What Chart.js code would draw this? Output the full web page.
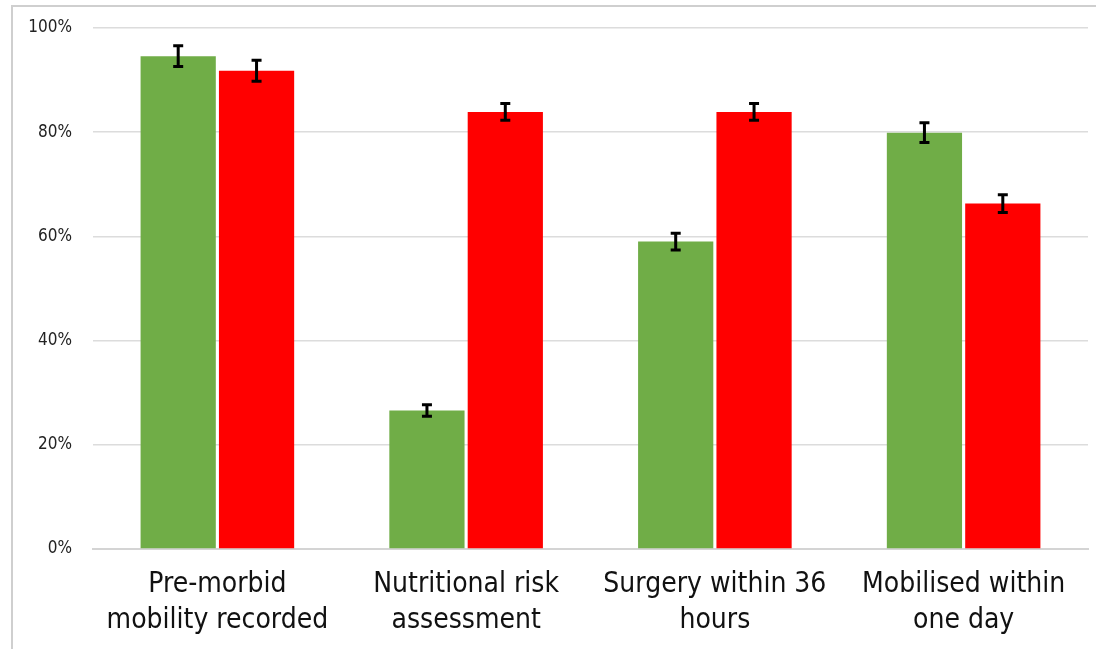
<!DOCTYPE html>
<html>
<head>
<meta charset="utf-8">
<script src="https://cdn.jsdelivr.net/npm/chart.js@4/dist/chart.umd.min.js"></script>
<style>
  html, body { margin: 0; padding: 0; background: #fff; overflow: hidden; }
  #wrap { position: relative; width: 1096px; height: 649px; overflow: hidden; }
  #frame { position: absolute; left: 11px; top: 5px; width: 1200px; height: 800px;
           border-left: 2px solid #cfcfcf; border-top: 2px solid #cfcfcf; pointer-events: none; }
  canvas { position: absolute; left: 0; top: 0; }
</style>
</head>
<body>
<div id="wrap">
  <canvas id="c" width="1096" height="649"></canvas>
  <div id="frame"></div>
</div>
<script>
const categories = [
  ["Pre-morbid", "mobility recorded"],
  ["Nutritional risk", "assessment"],
  ["Surgery within 36", "hours"],
  ["Mobilised within", "one day"]
];
const greenValues = [94.6, 26.6, 59.0, 79.9];
const greenErrors = [2.0, 1.1, 1.6, 1.9];
const redValues = [91.8, 83.9, 83.9, 66.3];
const redErrors = [2.0, 1.6, 1.6, 1.7];
const yTicks = [0, 20, 40, 60, 80, 100];

const FONT = "'DejaVu Sans Condensed', 'DejaVu Sans', sans-serif";

const errorBarPlugin = {
  id: 'errorBars',
  afterDatasetsDraw(chart) {
    const ctx = chart.ctx;
    const y = chart.scales.y;
    chart.data.datasets.forEach((ds, di) => {
      const meta = chart.getDatasetMeta(di);
      meta.data.forEach((bar, i) => {
        const v = ds.data[i], e = ds.errors[i];
        const yTop = y.getPixelForValue(v + e);
        const yBot = y.getPixelForValue(v - e);
        const x = bar.x;
        ctx.save();
        ctx.strokeStyle = '#000';
        ctx.lineWidth = 3;
        ctx.beginPath();
        ctx.moveTo(x, yTop); ctx.lineTo(x, yBot);
        ctx.moveTo(x - 5, yTop); ctx.lineTo(x + 5, yTop);
        ctx.moveTo(x - 5, yBot); ctx.lineTo(x + 5, yBot);
        ctx.stroke();
        ctx.restore();
      });
    });
  }
};

new Chart(document.getElementById('c'), {
  type: 'bar',
  data: {
    labels: categories,
    datasets: [
      { label: 'Green', data: greenValues, errors: greenErrors, backgroundColor: '#70ad47',
        categoryPercentage: 0.63, barPercentage: 0.96 },
      { label: 'Red', data: redValues, errors: redErrors, backgroundColor: '#ff0000',
        categoryPercentage: 0.63, barPercentage: 0.96 }
    ]
  },
  options: {
    responsive: false,
    animation: false,
    devicePixelRatio: 1,
    layout: { padding: { top: 28, right: 8, left: 0, bottom: 0 } },
    plugins: { legend: { display: false }, tooltip: { enabled: false } },
    scales: {
      x: {
        grid: { display: false, drawTicks: false },
        border: { display: true, color: '#d4d4d4', width: 2 },
        ticks: { color: '#111', font: { family: FONT, size: 28, lineHeight: 1.28 }, padding: 18, maxRotation: 0, autoSkip: false },
        afterFit(scale) { scale.height = 100; }
      },
      y: {
        min: 0, max: 100,
        afterBuildTicks(scale) { scale.ticks = yTicks.map(v => ({ value: v })); },
        grid: { color: '#dcdcdc', lineWidth: 1.5, drawTicks: false },
        border: { display: false },
        ticks: { color: '#222', font: { family: FONT, size: 17 }, padding: 21,
                 callback: v => v + '%' },
        afterFit(scale) { scale.width = 93; scale.paddingTop = 0; scale.paddingBottom = 0; }
      }
    }
  },
  plugins: [errorBarPlugin]
});
</script>
</body>
</html>
